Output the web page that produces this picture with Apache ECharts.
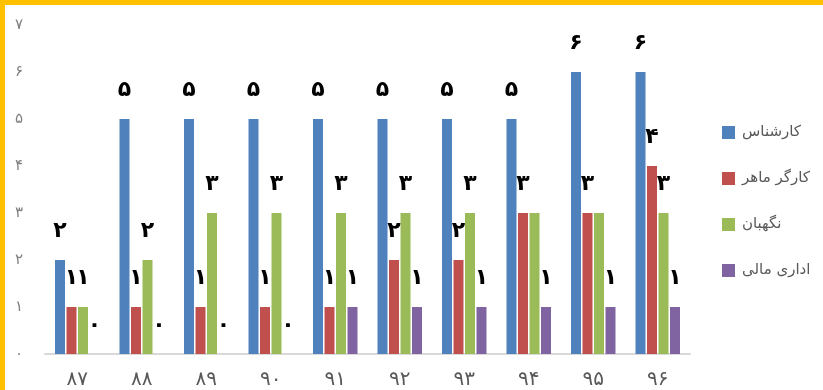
<!DOCTYPE html>
<html>
<head>
<meta charset="utf-8">
<script src="https://cdn.jsdelivr.net/npm/echarts@6/dist/echarts.min.js"></script>
<style>
  html, body { margin: 0; padding: 0; background: #fff; }
  .chart_wrapper {
    width: 823px;
    height: 390px;
    box-sizing: border-box;
    border-top: 5px solid #ffc000;
    border-left: 5px solid #ffc000;
  }
  #main { width: 818px; height: 385px; }
</style>
</head>
<body>
<div class="chart_wrapper"><div id="main"></div></div>
<script>
// years (Persian digits)
const categories = ["۸۷", "۸۸", "۸۹", "۹۰", "۹۱", "۹۲", "۹۳", "۹۴", "۹۵", "۹۶"];
const seriesNames = ["کارشناس", "کارگر ماهر", "نگهبان", "اداری مالی"];
const karshenas = [2, 5, 5, 5, 5, 5, 5, 5, 6, 6];
const kargarMaher = [1, 1, 1, 1, 1, 2, 2, 3, 3, 4];
const negahban = [1, 2, 3, 3, 3, 3, 3, 3, 3, 3];
const edariMali = [0, 0, 0, 0, 1, 1, 1, 1, 1, 1];
const yTicks = [0, 1, 2, 3, 4, 5, 6, 7];
// in the original the green label is hidden where it collides with the red one
const negahbanLabelHidden = ["۹۴", "۹۵"];

const colors = ["#4f81bd", "#c0504d", "#9bbb59", "#8064a2"];
const faDigits = "۰۱۲۳۴۵۶۷۸۹";
function toFa(n) {
  return String(n).replace(/[0-9]/g, d => faDigits[d]);
}

const font = "DejaVu Sans";
const allValues = [karshenas, kargarMaher, negahban, edariMali];

const series = allValues.map((vals, i) => ({
  name: seriesNames[i],
  type: "bar",
  data: vals.map((v, j) => {
    if (i === 2 && negahbanLabelHidden.includes(categories[j])) {
      return { value: v, label: { show: false } };
    }
    return v;
  }),
  barWidth: 10,
  barGap: "15%",
  itemStyle: { color: colors[i] },
  label: {
    show: true,
    position: "top",
    distance: 18,
    color: "#000",
    fontFamily: font,
    fontWeight: "bold",
    fontSize: 22,
    formatter: p => toFa(p.value)
  }
}));

const option = {
  animation: false,
  textStyle: { fontFamily: font },
  grid: { left: 40, right: 133, top: 20, bottom: 35 },
  legend: {
    orient: "vertical",
    left: 712,
    top: 115,
    itemWidth: 13,
    itemHeight: 13,
    itemGap: 31,
    icon: "rect",
    textStyle: { color: "#595959", fontSize: 15, fontFamily: font, padding: [0, 0, 0, 2] },
    data: seriesNames
  },
  xAxis: {
    type: "category",
    data: categories,
    axisLine: { lineStyle: { color: "#d9d9d9", width: 2 } },
    axisTick: { show: false },
    axisLabel: { color: "#595959", fontSize: 20, margin: 16, fontFamily: font }
  },
  yAxis: {
    type: "value",
    min: yTicks[0],
    max: yTicks[yTicks.length - 1],
    interval: 1,
    axisLine: { show: false },
    axisTick: { show: false },
    splitLine: { show: false },
    axisLabel: {
      color: "#7f7f7f",
      fontSize: 15,
      margin: 22,
      fontFamily: font,
      formatter: v => toFa(v)
    }
  },
  series: series
};

const myChart = echarts.init(document.getElementById("main"));
myChart.setOption(option);
</script>
</body>
</html>
